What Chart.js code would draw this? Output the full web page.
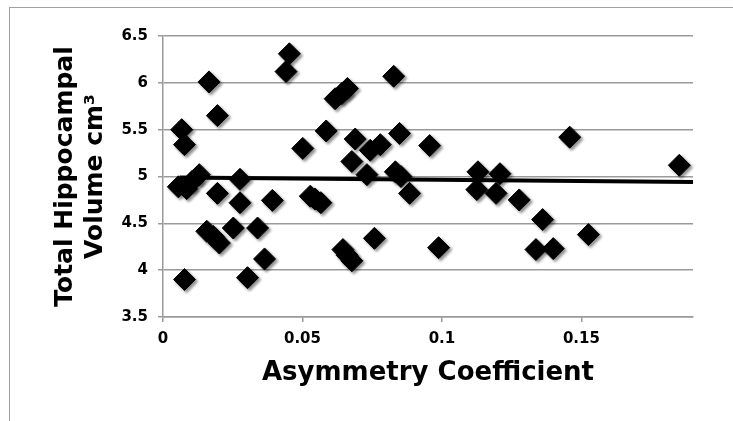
<!DOCTYPE html>
<html>
<head>
<meta charset="utf-8">
<script src="https://cdn.jsdelivr.net/npm/chart.js@4"></script>
<style>
  body { margin: 0; background: #fff; }
  #wrap { position: relative; width: 733px; height: 421px; overflow: hidden; }
  #frame { position: absolute; left: 9px; top: 7px; width: 760px; height: 440px; border-left: 1.5px solid #a0a0a0; border-top: 1.5px solid #a0a0a0; }
  canvas { position: absolute; left: 0; top: 0; }
</style>
</head>
<body>
<div id="wrap">
  <div id="frame"></div>
  <canvas id="hippoChart" width="733" height="421"></canvas>
</div>
<script>
var asymmetry = [0.0067, 0.0077, 0.0055, 0.0085, 0.0105, 0.013, 0.0077, 0.0165, 0.0195, 0.0195,
    0.0157, 0.018, 0.0202, 0.0252, 0.0276, 0.0276, 0.0303, 0.0339, 0.0364, 0.0392,
    0.0453, 0.0441, 0.0501, 0.0528, 0.0545, 0.0566, 0.0585, 0.0617, 0.0641, 0.0661,
    0.0645, 0.066, 0.0677, 0.0677, 0.0689, 0.0731, 0.0743, 0.0779, 0.0758, 0.0827,
    0.0833, 0.0853, 0.0848, 0.0884, 0.0956, 0.0988, 0.1129, 0.1125, 0.1208, 0.1194,
    0.1277, 0.1361, 0.1337, 0.1399, 0.1458, 0.1525, 0.1851];
var volume = [5.50, 5.34, 4.89, 4.87, 4.95, 5.02, 3.90, 6.01, 5.65, 4.82,
    4.415, 4.36, 4.29, 4.45, 4.97, 4.72, 3.92, 4.45, 4.12, 4.745,
    6.31, 6.12, 5.30, 4.79, 4.76, 4.72, 5.486, 5.83, 5.886, 5.94,
    4.22, 4.16, 4.10, 5.16, 5.40, 5.02, 5.28, 5.34, 4.34, 6.07,
    5.05, 5.00, 5.46, 4.82, 5.33, 4.24, 5.05, 4.86, 5.03, 4.82,
    4.75, 4.54, 4.22, 4.23, 5.42, 4.38, 5.12];
var trendX = [0.006, 0.19];
var trendY = [4.99, 4.94];

var points = asymmetry.map(function (x, i) { return { x: x, y: volume[i] }; });
var trend = trendX.map(function (x, i) { return { x: x, y: trendY[i] }; });

// drop shadow under the diamonds
var shadowPlugin = {
    id: 'shadow',
    beforeDatasetDraw: function (chart, args) {
        if (args.index !== 0) return;
        var ctx = chart.ctx;
        ctx.save();
        ctx.shadowColor = 'rgba(0,0,0,0.45)';
        ctx.shadowBlur = 3;
        ctx.shadowOffsetX = 2;
        ctx.shadowOffsetY = 2;
    },
    afterDatasetDraw: function (chart, args) {
        if (args.index !== 0) return;
        chart.ctx.restore();
    }
};

var gridColor = '#9a9a9a';

function numLabel(v) {
    return String(Math.round(v * 100) / 100);
}

new Chart(document.getElementById('hippoChart').getContext('2d'), {
    type: 'scatter',
    data: {
        datasets: [{
            data: points,
            pointStyle: 'rectRot',
            pointRadius: 11,
            pointHoverRadius: 11,
            backgroundColor: '#000',
            borderColor: '#000',
            borderWidth: 1,
            clip: false,
            order: 2
        }, {
            type: 'line',
            data: trend,
            borderColor: '#000',
            borderWidth: 4,
            pointRadius: 0,
            fill: false,
            order: 1
        }]
    },
    options: {
        responsive: false,
        animation: false,
        events: [],
        layout: { padding: { left: 40, top: 36, right: 40, bottom: 32 } },
        plugins: { legend: { display: false }, tooltip: { enabled: false } },
        scales: {
            x: {
                type: 'linear',
                min: 0,
                max: 0.19,
                afterBuildTicks: function (scale) {
                    scale.ticks = scale.ticks.filter(function (t) { return t.value <= 0.1501; });
                },
                afterFit: function (scale) { scale.height = 72; },
                border: { color: gridColor, width: 1.5 },
                grid: { drawOnChartArea: false, color: gridColor, lineWidth: 1.5, tickLength: 5 },
                ticks: {
                    stepSize: 0.05,
                    color: '#000',
                    font: { family: 'DejaVu Sans', size: 15, weight: 'bold' },
                    padding: 8,
                    maxRotation: 0,
                    callback: numLabel
                },
                title: {
                    display: true,
                    text: 'Asymmetry Coefficient',
                    color: '#000',
                    font: { family: 'DejaVu Sans', size: 26, weight: 'bold' },
                    padding: { top: 10, bottom: 0 }
                }
            },
            y: {
                min: 3.5,
                max: 6.5,
                afterFit: function (scale) { scale.width = 123; },
                border: { color: gridColor, width: 1.5 },
                grid: { color: gridColor, lineWidth: 1.5, tickLength: 5 },
                ticks: {
                    stepSize: 0.5,
                    color: '#000',
                    font: { family: 'DejaVu Sans', size: 15, weight: 'bold' },
                    padding: 10,
                    callback: numLabel
                },
                title: {
                    display: true,
                    text: ['Total Hippocampal', 'Volume cm\u00b3'],
                    color: '#000',
                    font: { family: 'DejaVu Sans', size: 25, weight: 'bold', lineHeight: 1.2 },
                    padding: { top: 10, bottom: 0 }
                }
            }
        }
    },
    plugins: [shadowPlugin]
});
</script>
</body>
</html>
